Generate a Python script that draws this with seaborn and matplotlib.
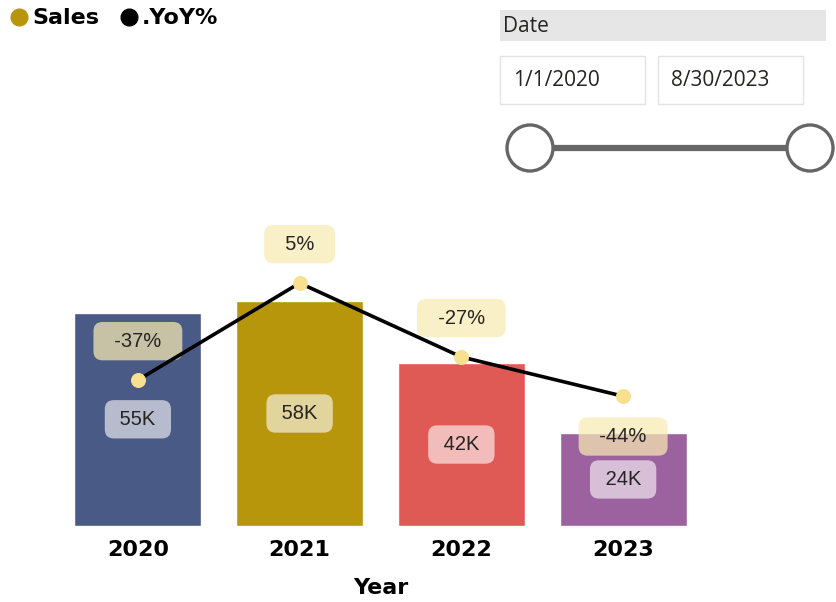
import numpy as np
import pandas as pd
import seaborn as sns
from matplotlib import pyplot as plt
from matplotlib.lines import Line2D
from matplotlib.patches import Rectangle, Circle

# data
years = ['2020', '2021', '2022', '2023']
sales_k = [55, 58, 42, 24]
yoy_pct = [-37, 5, -27, -44]
bar_colors = ['#4A5A87', '#B8960C', '#E05A55', '#9C62A0']
date_start = '1/1/2020'
date_end = '8/30/2023'

df = pd.DataFrame({'Year': years, 'Sales': sales_k, 'YoY': yoy_pct})

sns.set_style('white')
plt.rcParams['font.family'] = ['DejaVu Sans']

W, H = 836, 602
fig = plt.figure(figsize=(W / 100, H / 100), dpi=100)

# main chart axes (pixel box 57..704 x 220..526)
ax = fig.add_axes([57 / W, 1 - 526 / H, (704 - 57) / W, (526 - 220) / H])
sns.barplot(data=df, x='Year', y='Sales', hue='Year', palette=bar_colors,
            legend=False, width=0.785, saturation=1, ax=ax)
ax.set_ylim(0, 306 / 3.88)
ax.set_xlim(-0.5, 3.5)
ax.set_yticks([])
ax.set_ylabel('')
ax.set_xlabel('Year', fontsize=16, fontweight='bold', labelpad=13, color='black')
ax.tick_params(axis='x', length=0, pad=10, labelcolor='black')
for lab in ax.get_xticklabels():
    lab.set_fontsize(16)
    lab.set_fontweight('bold')
sns.despine(ax=ax, left=True, bottom=True)

# sales labels inside bars
for i, v in enumerate(sales_k):
    ax.text(i, v / 2, f' {v}K ', ha='center', va='center', fontsize=14.5,
            family='Liberation Sans', color='#252423',
            bbox=dict(boxstyle='round,pad=0.48,rounding_size=0.45',
                      fc='white', ec='none', alpha=0.6))

# YoY line on secondary axis
ax2 = ax.twinx()
sns.lineplot(x=np.arange(len(years)), y=df['YoY'], ax=ax2, color='black',
             linewidth=2.6, marker='o', markersize=10,
             markerfacecolor='#F8E08E', markeredgecolor='#F8E08E', zorder=5)
ax2.set_ylim(-100.2, 32.3)
ax2.set_xlim(-0.5, 3.5)
ax2.set_yticks([])
ax2.set_ylabel('')
sns.despine(ax=ax2, left=True, bottom=True, right=True)

for i, v in enumerate(yoy_pct):
    dy = -29 if i == len(yoy_pct) - 1 else 28
    ax2.annotate(f'  {v}%  ', (i, v), xytext=(0, dy), textcoords='offset points',
                 ha='center', va='center', fontsize=14.5, family='Liberation Sans',
                 color='#252423', zorder=3,
                 bbox=dict(boxstyle='round,pad=0.48,rounding_size=0.45',
                           fc='#F9EBB3', ec='none', alpha=0.72))

# legend
handles = [Line2D([], [], ls='', marker='o', markersize=12, color=bar_colors[1]),
           Line2D([], [], ls='', marker='o', markersize=12, color='black')]
fig.legend(handles, ['Sales', '.YoY%'], loc='upper left',
           bbox_to_anchor=(6 / W, 1 - 4 / H),
           ncol=2, frameon=False, handlelength=0.8, handletextpad=0.2,
           columnspacing=0.9, borderaxespad=0, borderpad=0.2,
           prop=dict(weight='bold', size=16), labelcolor='black')

# date slicer drawn in pixel space
ov = fig.add_axes([0, 0, 1, 1])
ov.set_xlim(0, W)
ov.set_ylim(H, 0)
ov.axis('off')
ov.add_patch(Rectangle((500, 10), 326, 31, fc='#E6E6E6', ec='none'))
ov.text(503, 27, 'Date', fontsize=15, family='Open Sans', color='#252423',
        ha='left', va='center')
for x0, txt in [(500, date_start), (658, date_end)]:
    ov.add_patch(Rectangle((x0, 56), 145, 48, fc='white', ec='#E3E3E3', lw=1))
    ov.text(x0 + 13, 81, txt, fontsize=15, family='Open Sans', color='#252423',
            ha='left', va='center')
ov.plot([530, 810], [148, 148], color='#666666', lw=4.5, solid_capstyle='butt')
for cx in (530, 810):
    ov.add_patch(Circle((cx, 148), 23, fc='white', ec='#666666', lw=2.4, zorder=3))

fig.savefig('out.png', dpi=100)
